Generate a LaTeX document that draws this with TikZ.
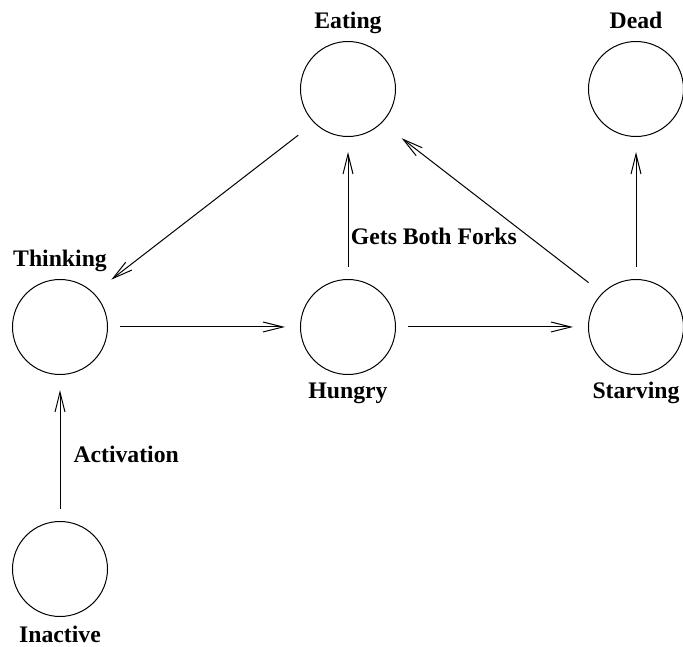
\documentclass[tikz,border=0pt]{standalone}
\usepackage{fontspec}
\setmainfont{Liberation Serif}
\usepackage{tikz}
\usetikzlibrary{arrows.meta,positioning}
\tikzset{
  state/.style={circle,draw=black,line width=0.5bp,minimum size=47.5bp,inner sep=0pt},
  lab/.style={font=\fontsize{11.9}{14}\selectfont\bfseries,inner sep=0pt},
  tran/.style={-{Straight Barb[length=10bp,width=5bp]},line width=0.5bp,
               shorten <=6bp,shorten >=7.5bp},
}

\begin{document}
\begin{tikzpicture}[x=1bp,y=1bp]
  \useasboundingbox (0,0) rectangle (341.5,323.5);
  % states
  \node[state] (eating)   at (174,279) {};
  \node[state] (dead)     at (318,279) {};
  \node[state] (thinking) at (30,160)  {};
  \node[state] (hungry)   at (174,160) {};
  \node[state] (starving) at (318,160) {};
  \node[state] (inactive) at (30,39)   {};
  % names
  \node[lab,above=6bp of eating.north,anchor=base]     (eatinglbl)   {Eating};
  \node[lab,above=6bp of dead.north,anchor=base]       (deadlbl)     {Dead};
  \node[lab,above=6bp of thinking.north,anchor=base]   (thinkinglbl) {Thinking};
  \node[lab,below=11.5bp of hungry.south,anchor=base]  (hungrylbl)   {Hungry};
  \node[lab,below=11.5bp of starving.south,anchor=base](starvinglbl) {Starving};
  \node[lab,below=12.5bp of inactive.south,anchor=base](inactivelbl) {Inactive};
  % transitions
  \draw[tran] (inactive.north) -- node[lab,pos=0.4,anchor=base west,xshift=6.5bp]{Activation} (thinking.south);
  \draw[tran] (thinking.east) -- (hungry.west);
  \draw[tran] (hungry.east) -- (starving.west);
  \draw[tran] (hungry.north) -- node[lab,pos=0.24,anchor=base west,xshift=1.2bp]{Gets Both Forks} (eating.south);
  \draw[tran] (starving.north) -- (dead.south);
  \draw[tran,shorten <=10bp,shorten >=11bp] (eating.225) -- (thinking.45);
  \draw[tran,shorten <=8.5bp,shorten >=12.5bp] (starving.135) -- (eating.-45);
\end{tikzpicture}
\end{document}
